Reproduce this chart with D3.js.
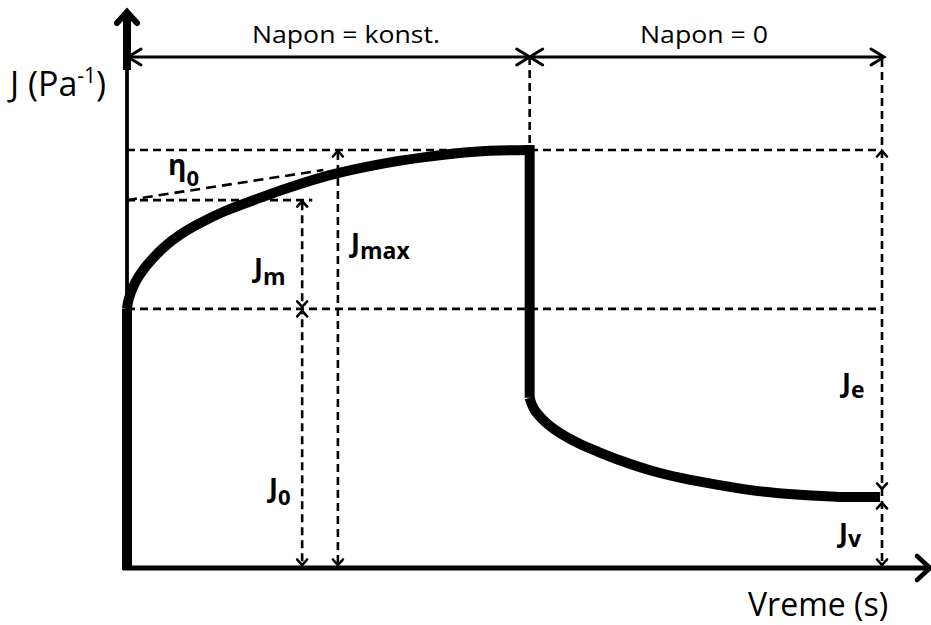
<!DOCTYPE html>
<html>
<head>
<meta charset="utf-8">
<script src="https://cdn.jsdelivr.net/npm/d3@7"></script>
<style>
  html, body { margin: 0; padding: 0; background: #fff; }
  svg { display: block; }
  text { font-family: "Open Sans", "DejaVu Sans", sans-serif; fill: #000; }
</style>
</head>
<body>
<svg id="chart" width="931" height="625"></svg>
<script>
// ---- data (time in arbitrary units, compliance J in % of Jmax) ----
const creepT = [0, 0.02, 0.08, 0.18, 0.32, 0.50, 0.74, 1.05, 1.45, 1.95, 2.54, 3.24, 4.03, 4.93, 5.92, 6.91, 8];
const creepJ = [62, 63.6, 66.0, 68.7, 71.3, 73.9, 76.8, 79.7, 82.5, 85.4, 88.1, 91.1, 94.0, 96.4, 98.3, 99.6, 100];
const recovT = [8, 8.04, 8.11, 8.23, 8.40, 8.64, 8.96, 9.36, 9.83, 10.39, 11.03, 11.74, 12.54, 13.37, 14.17, 14.96];
const recovJ = [40.7, 39.2, 37.6, 35.9, 34.0, 32.0, 29.9, 27.8, 25.6, 23.4, 21.5, 19.9, 18.4, 17.5, 17.0, 17.0];
const levels = { J0: 62, JmTop: 88, Jmax: 100, Jv: 17 };
const tSwitch = 8, tEnd = 15;
const tangentT = [0, 3.9];
const tangentJ = [88, 95.2];
const phaseLabels = ["Napon = konst.", "Napon = 0"];
const axisLabels = ["J (Pa", "-1", ")", "Vreme (s)"];

// ---- scales ----
const x = d3.scaleLinear().domain([0, tEnd]).range([127, 882]);
const y = d3.scaleLinear().domain([0, 100]).range([568, 150]);
const svg = d3.select("#chart");

const tAxisEnd = x.invert(930);
const jAxisTop = y.invert(12);
const jDim = y.invert(57);
const jThick = y.invert(70);

function seg(x1, y1, x2, y2, w, dash) {
  const l = svg.append("line").attr("x1", x1).attr("y1", y1).attr("x2", x2).attr("y2", y2)
    .attr("stroke", "#000").attr("stroke-width", w);
  if (dash) l.attr("stroke-dasharray", dash);
  return l;
}
function chevron(px, py, dir, a, b, w) {
  // open arrowhead with tip at (px,py); a = half-width, b = length
  let pts;
  if (dir === "up") pts = [[px - a, py + b], [px, py], [px + a, py + b]];
  if (dir === "down") pts = [[px - a, py - b], [px, py], [px + a, py - b]];
  if (dir === "left") pts = [[px + b, py - a], [px, py], [px + b, py + a]];
  if (dir === "right") pts = [[px - b, py - a], [px, py], [px - b, py + a]];
  svg.append("path").attr("d", d3.line()(pts)).attr("fill", "none")
    .attr("stroke", "#000").attr("stroke-width", w)
    .attr("stroke-linecap", "round").attr("stroke-linejoin", "miter");
}

const DASH = "8,5";
const DW = 2.6;

// ---- dashed guide lines ----
seg(x(0), y(levels.Jmax), x(tEnd), y(levels.Jmax), DW, DASH);
seg(x(0), y(levels.JmTop), x(3.68), y(levels.JmTop), DW, DASH);
seg(x(0), y(levels.J0), x(tEnd), y(levels.J0), DW, DASH);
seg(x(tSwitch), y(jDim), x(tSwitch), y(levels.Jmax), DW, DASH);
seg(x(tEnd), y(jDim) + 2, x(tEnd), y(0), DW, DASH);

// tangent (eta0)
svg.append("path")
  .attr("d", d3.line().x((d, i) => x(tangentT[i])).y(d => y(d))(tangentJ))
  .attr("fill", "none").attr("stroke", "#000").attr("stroke-width", DW).attr("stroke-dasharray", "10,6");

// dimension arrows
const tJm = 3.48, tJmax = 4.19;
seg(x(tJm), y(levels.JmTop) + 2, x(tJm), y(0) - 2, DW, DASH);
seg(x(tJmax), y(levels.Jmax) + 2, x(tJmax), y(0) - 2, DW, DASH);
const AA = 5, AB = 5.5, AW = 2.6;
chevron(x(tJm), y(levels.JmTop) + 1, "up", AA, AB, AW);
chevron(x(tJm), y(levels.J0) - 2, "down", AA, AB, AW);
chevron(x(tJm), y(levels.J0) + 2, "up", AA, AB, AW);
chevron(x(tJm), y(0) - 3, "down", AA, AB, AW);
chevron(x(tJmax), y(levels.Jmax) + 1, "up", AA, AB, AW);
chevron(x(tJmax), y(0) - 3, "down", AA, AB, AW);
chevron(x(tEnd), y(levels.Jmax) + 1, "up", AA, AB, AW);
chevron(x(tEnd), y(levels.Jv) - 8, "down", AA, AB, AW);
chevron(x(tEnd), y(levels.Jv) + 6, "up", AA, AB, AW);
chevron(x(tEnd), y(0) - 3, "down", AA, AB, AW);

// ---- axes ----
seg(x(0), y(0), x(0), y(jThick), 3.8);
seg(x(0), y(jThick), x(0), y(jAxisTop) + 3, 8);
chevron(x(0), y(jAxisTop), "up", 10, 11, 6);
seg(x(0) - 4, y(0), x(tAxisEnd) - 2, y(0), 5);
chevron(x(tAxisEnd), y(0), "right", 12, 13, 4.5);

// top phase dimension line
seg(x(0), y(jDim), x(tEnd) + 2, y(jDim), 3);
chevron(x(0) + 1, y(jDim), "left", 8, 13, 3);
chevron(x(tSwitch), y(jDim), "right", 8, 13, 3);
chevron(x(tSwitch), y(jDim), "left", 8, 13, 3);
chevron(x(tEnd) + 2, y(jDim), "right", 8, 13, 3);

// ---- compliance curve ----
const CW = 10;
const smooth = d3.curveCatmullRom.alpha(0.5);
seg(x(0), y(0) + 2, x(0), y(creepJ[0]), CW);
svg.append("path")
  .attr("d", d3.line().x((d, i) => x(creepT[i])).y(d => y(d)).curve(smooth)(creepJ))
  .attr("fill", "none").attr("stroke", "#000").attr("stroke-width", CW);
seg(x(tSwitch), y(levels.Jmax) - CW / 2, x(tSwitch), y(recovJ[0]), CW);
svg.append("path")
  .attr("d", d3.line().x((d, i) => x(recovT[i])).y(d => y(d)).curve(smooth)(recovJ))
  .attr("fill", "none").attr("stroke", "#000").attr("stroke-width", CW);

// ---- texts ----
svg.append("text").attr("x", 252).attr("y", 43)
  .attr("font-size", 23).attr("textLength", 188).attr("lengthAdjust", "spacingAndGlyphs").text(phaseLabels[0]);
svg.append("text").attr("x", 640).attr("y", 43)
  .attr("font-size", 23).attr("textLength", 128).attr("lengthAdjust", "spacingAndGlyphs").text(phaseLabels[1]);

const yl = svg.append("text").attr("x", 10).attr("y", 96).attr("font-size", 34);
yl.append("tspan").text(axisLabels[0]);
yl.append("tspan").attr("dy", -13).attr("font-size", 21).text(axisLabels[1]);
yl.append("tspan").attr("dy", 13).text(axisLabels[2]);

svg.append("text").attr("x", 748).attr("y", 616).attr("font-size", 32).text(axisLabels[3]);

function sublabel(px, py, main, sub, subDy, mainSize, subSize) {
  const t = svg.append("text").attr("x", px).attr("y", py).attr("font-weight", "bold").attr("font-size", mainSize);
  t.append("tspan").text(main);
  t.append("tspan").attr("dy", subDy).attr("font-size", subSize).text(sub);
}
sublabel(168, 175, "η", "0", 11, 28, 22);
sublabel(254, 277, "J", "m", 8, 27, 23);
sublabel(351, 252, "J", "max", 7, 27, 23);
sublabel(269, 497, "J", "0", 8, 27, 22);
sublabel(842, 392, "J", "e", 6, 27, 23);
sublabel(839, 542, "J", "v", 5, 27, 23);
</script>
</body>
</html>
